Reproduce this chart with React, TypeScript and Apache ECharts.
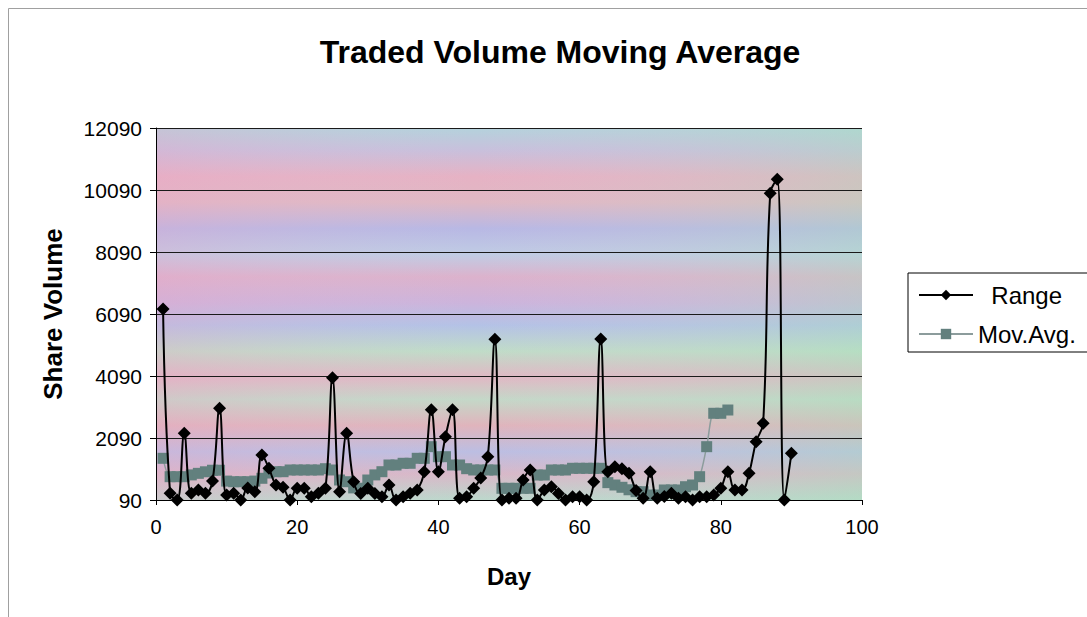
import React, { useEffect, useRef } from "react";
import * as echarts from "echarts";

// ---- data ----
const AXIS_BASE = 90; // the value axis starts at 90 and steps by 2000
const Y_MAX = 12090;
const Y_STEP = 2000;

const days: number[] = Array.from({ length: 90 }, (_, i) => i + 1);

const rangeValues: number[] = [
  6250, 306, 90, 2241, 306, 413, 306, 700, 3048, 250,
  306, 90, 480, 358, 1542, 1113, 574, 500, 90, 467,
  467, 196, 306, 467, 4033, 358, 2241, 680, 300, 467,
  300, 196, 574, 90, 196, 306, 413, 1003, 3000, 1003,
  2131, 3000, 145, 196, 467, 800, 1487, 5274, 90, 145,
  145, 735, 1058, 90, 413, 520, 300, 90, 196, 196,
  90, 680, 5280, 1000, 1165, 1100, 951, 400, 150, 1003,
  150, 200, 306, 145, 196, 90, 196, 196, 250, 467,
  1003, 413, 413, 951, 1971, 2564, 9984, 10436, 90, 1597,
];

const movAvgValues: number[] = [
  1435, 842, 842, 842, 900, 950, 1000, 1050, 1050, 700,
  680, 680, 680, 700, 790, 960, 1003, 1003, 1058, 1058,
  1058, 1058, 1058, 1100, 1058, 735, 680, 480, 470, 735,
  900, 1003, 1219, 1219, 1274, 1274, 1435, 1435, 1810, 1487,
  1487, 1219, 1219, 1100, 1058, 1058, 1058, 1058, 467, 467,
  467, 467, 467, 896, 896, 1058, 1058, 1058, 1113, 1113,
  1113, 1113, 1113, 650, 574, 500, 420, 358, 358, 251,
  251, 413, 413, 413, 519, 574, 842, 1810, 2887, 2887,
  2993,
];

const TITLE = "Traded Volume Moving Average";

export default function App() {
  const ref = useRef<HTMLDivElement>(null);

  useEffect(() => {
    if (!ref.current) return;
    const chart = echarts.init(ref.current, undefined, { renderer: "svg" });

    const gridLeft = 156;
    const gridTop = 128;
    const gridW = 706;
    const gridH = 372;

    const vGrad = new echarts.graphic.LinearGradient(0, 0, 0, 1, [
      { offset: 0.0, color: "#b4d2dc" },
      { offset: 0.06, color: "#c8c0dc" },
      { offset: 0.13, color: "#e6b2c4" },
      { offset: 0.2, color: "#e0b8c4" },
      { offset: 0.27, color: "#b8b8e4" },
      { offset: 0.34, color: "#c0cce4" },
      { offset: 0.4, color: "#dcb2cc" },
      { offset: 0.47, color: "#ccb4dc" },
      { offset: 0.53, color: "#b4c2e6" },
      { offset: 0.6, color: "#c0dcc8" },
      { offset: 0.67, color: "#e0b8c4" },
      { offset: 0.73, color: "#c4d8c8" },
      { offset: 0.8, color: "#e0b4bc" },
      { offset: 0.87, color: "#bcbee2" },
      { offset: 0.93, color: "#d8b8c8" },
      { offset: 1.0, color: "#bcd8cc" },
    ]);
    const hGrad = new echarts.graphic.LinearGradient(0, 0, 1, 0, [
      { offset: 0, color: "rgba(235,165,200,0.30)" },
      { offset: 0.45, color: "rgba(220,200,220,0.0)" },
      { offset: 1, color: "rgba(165,225,185,0.38)" },
    ]);

    const fontFamily = "'Liberation Sans', Arial, sans-serif";

    chart.setOption({
      animation: false,
      backgroundColor: "#ffffff",
      textStyle: { fontFamily },
      title: {
        text: TITLE,
        left: 555,
        top: 31,
        textAlign: "center",
        textStyle: { fontSize: 32, fontWeight: "bold", color: "#000", fontFamily },
      },
      graphic: [
        {
          type: "rect",
          z: -20,
          shape: { x: 8.5, y: 8.5, width: 1200, height: 800 },
          style: { fill: "none", stroke: "#a0a0a0", lineWidth: 1 },
        },
        {
          type: "rect",
          z: -10,
          shape: { x: gridLeft, y: gridTop, width: gridW, height: gridH },
          style: { fill: vGrad },
        },
        {
          type: "rect",
          z: -9,
          shape: { x: gridLeft, y: gridTop, width: gridW, height: gridH },
          style: { fill: hGrad },
        },
      ],
      grid: { left: gridLeft, top: gridTop, width: gridW, height: gridH, containLabel: false },
      legend: {
        orient: "vertical",
        left: 908,
        top: 273,
        padding: [10, 20, 6, 10],
        itemGap: 15,
        itemWidth: 54,
        itemHeight: 13,
        borderColor: "#000",
        borderWidth: 1,
        backgroundColor: "#ffffff",
        formatter: (name: string) => (name === "Range" ? "  " + name : name),
        textStyle: { fontSize: 24, color: "#000", fontFamily },
        data: ["Range", "Mov.Avg."],
      },
      xAxis: {
        type: "value",
        min: 0,
        max: 100,
        interval: 20,
        name: "Day",
        nameLocation: "middle",
        nameGap: 64,
        nameTextStyle: { fontSize: 24, fontWeight: "bold", color: "#000", fontFamily },
        axisLine: { show: true, lineStyle: { color: "#000", width: 1 } },
        axisTick: { show: true, length: 5, lineStyle: { color: "#000" } },
        axisLabel: { fontSize: 20, color: "#000", margin: 17, fontFamily },
        splitLine: { show: false },
      },
      yAxis: {
        type: "value",
        min: 0,
        max: Y_MAX - AXIS_BASE,
        interval: Y_STEP,
        name: "Share Volume",
        nameLocation: "middle",
        nameGap: 90,
        nameRotate: 90,
        nameTextStyle: { fontSize: 26, fontWeight: "bold", color: "#000", fontFamily },
        axisLine: { show: true, lineStyle: { color: "#000", width: 1 } },
        axisTick: { show: true, length: 6, lineStyle: { color: "#000" } },
        axisLabel: {
          fontSize: 21,
          color: "#000",
          margin: 14,
          fontFamily,
          formatter: (v: number) => String(v + AXIS_BASE),
        },
        splitLine: { show: true, lineStyle: { color: "#1a1a1a", width: 1 } },
      },
      series: [
        {
          name: "Mov.Avg.",
          type: "line",
          smooth: 0.3,
          symbol: "rect",
          symbolSize: 11,
          data: movAvgValues.map((v, i) => [days[i], v - AXIS_BASE]),
          lineStyle: { color: "#8c9c9c", width: 1.5 },
          itemStyle: { color: "#62807e" },
          z: 2,
        },
        {
          name: "Range",
          type: "line",
          smooth: 0.4,
          symbol: "diamond",
          symbolSize: 13,
          data: rangeValues.map((v, i) => [days[i], v - AXIS_BASE]),
          lineStyle: { color: "#000", width: 2 },
          itemStyle: { color: "#000" },
          z: 3,
        },
      ],
    });

    return () => chart.dispose();
  }, []);

  return (
    <div
      ref={ref}
      style={{ position: "fixed", left: 0, top: 0, width: 1087, height: 617 }}
    />
  );
}
